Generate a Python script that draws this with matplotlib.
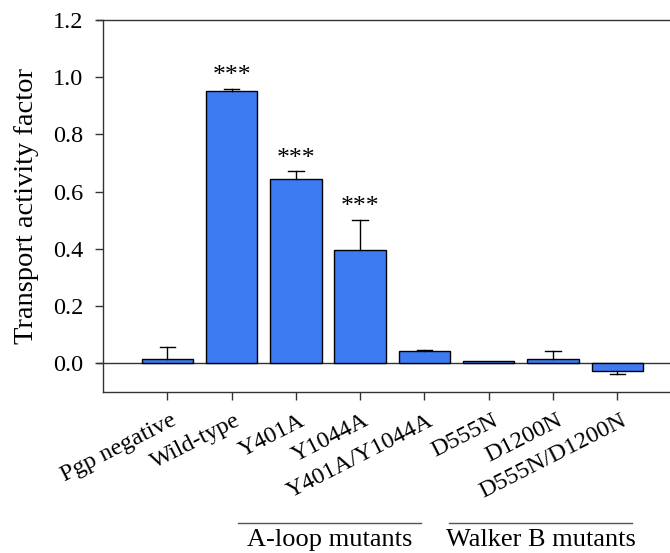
import numpy as np
import matplotlib.pyplot as plt
import matplotlib.transforms as mtransforms

# Transport activity per construct
labels = ['Pgp negative', 'Wild-type', 'Y401A', 'Y1044A', 'Y401A/Y1044A',
          'D555N', 'D1200N', 'D555N/D1200N']
values = [0.016, 0.950, 0.646, 0.397, 0.043, 0.007, 0.017, -0.027]
errors = [0.041, 0.010, 0.025, 0.105, 0.003, 0.000, 0.027, 0.009]
stars = ['', '***', '***', '***', '', '', '', '']

groups = ['A-loop mutants', 'Walker B mutants']
group_spans = [(1.10, 3.95), (4.39, 7.23)]

plt.rcParams['font.family'] = ['Liberation Serif', 'DejaVu Serif']

fig = plt.figure(figsize=(6.7, 5.53), dpi=100)
ax = fig.add_axes([0.1537, 0.291, 0.8463, 0.673])

x = np.arange(len(labels))
bar_color = '#3c7bf2'
ax.bar(x, values, width=0.8, color=bar_color, edgecolor='black', linewidth=1.0, zorder=2)

# one-sided error caps pointing away from zero
for xi, v, e in zip(x, values, errors):
    if e <= 0:
        continue
    end = v + e if v >= 0 else v - e
    ax.plot([xi, xi], [v, end], color='black', lw=1.0, zorder=3)
    ax.plot([xi - 0.12, xi + 0.12], [end, end], color='black', lw=1.0, zorder=3)

for xi, v, e, s in zip(x, values, errors, stars):
    if s:
        ax.text(xi, v + e + 0.022, s, ha='center', va='baseline', fontsize=18.5)

# zero line and top line span the width and stick out left like ticks
ytr = ax.get_yaxis_transform()
ax.plot([-0.011, 1], [0, 0], transform=ytr, color='#333333', lw=1.0, clip_on=False, zorder=1)
ax.plot([-0.011, 1], [1.2, 1.2], transform=ytr, color='#333333', lw=1.0, clip_on=False, zorder=1)

ax.set_xlim(-1, 7.82)
ax.set_ylim(-0.1, 1.2)
yt = np.arange(0, 1.21, 0.2)
ax.set_yticks(yt)
ax.set_yticklabels([f'{t:.1f}' for t in yt], fontsize=17.5)
ax.tick_params(axis='y', length=6, width=1.0, color='#333333', pad=8)
ax.set_xticks(x)
ax.set_xticklabels(labels, rotation=27, ha='right', rotation_mode='anchor', fontsize=17.5)
ax.tick_params(axis='x', length=6, width=1.0, color='#333333', pad=7)
shift = mtransforms.ScaledTranslation(3 / 100, 0, fig.dpi_scale_trans)
for lab in ax.get_xticklabels():
    lab.set_transform(lab.get_transform() + shift)

ax.spines['right'].set_visible(False)
ax.spines['top'].set_visible(False)
for side in ['left', 'bottom']:
    ax.spines[side].set_color('#333333')
    ax.spines[side].set_linewidth(1.0)

ax.set_ylabel('Transport activity factor', fontsize=20.5, va='center')
ax.yaxis.set_label_coords(-0.134, 0.5)

# group brackets under the tick labels
xtr = ax.get_xaxis_transform()
for name, (a, b) in zip(groups, group_spans):
    ax.plot([a, b], [-0.352, -0.352], transform=xtr, color='#555555', lw=1.0, clip_on=False)
    ax.text((a + b) / 2, -0.398, name, transform=xtr, ha='center', va='center', fontsize=19)

fig.savefig('out.png', dpi=100)
